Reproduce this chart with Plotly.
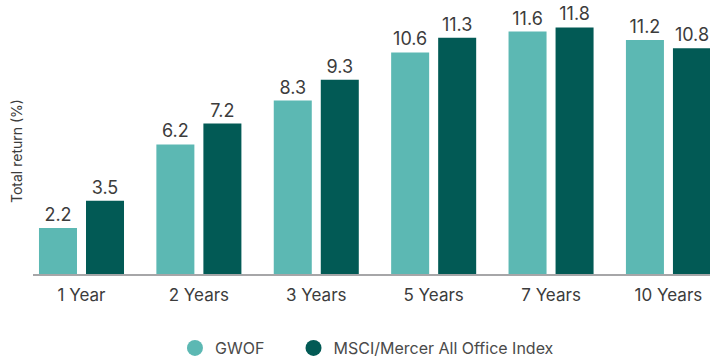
import plotly.graph_objects as go

periods = ["1 Year", "2 Years", "3 Years", "5 Years", "7 Years", "10 Years"]
gwof = [2.2, 6.2, 8.3, 10.6, 11.6, 11.2]
msci = [3.5, 7.2, 9.3, 11.3, 11.8, 10.8]

GWOF_COLOR = "#5cb8b3"
MSCI_COLOR = "#025a55"
TEXT_COLOR = "#3c3c3c"
FONT = "Inter, Roboto, sans-serif"

fig = go.Figure()

series = [("GWOF", gwof, GWOF_COLOR, "legend"),
          ("MSCI/Mercer All Office Index", msci, MSCI_COLOR, "legend2")]

for name, vals, color, leg in series:
    fig.add_trace(go.Bar(
        x=periods, y=vals, name=name,
        marker=dict(color=color, line=dict(width=0)),
        text=[f"{v:.1f}" for v in vals],
        textposition="outside",
        textfont=dict(size=18, color=TEXT_COLOR, family=FONT),
        cliponaxis=False,
        showlegend=False,
    ))
    # circular legend entries
    fig.add_trace(go.Scatter(
        x=[None], y=[None], mode="markers", name=name, legend=leg,
        marker=dict(symbol="circle", size=16, color=color),
        showlegend=True,
    ))

legend_style = dict(
    orientation="h", yanchor="middle", y=-0.27, xanchor="left",
    font=dict(size=16, color="#4a4a4a"), itemsizing="trace",
    bgcolor="rgba(0,0,0,0)",
)

fig.update_layout(
    width=710, height=357,
    margin=dict(l=33, r=0, t=0, b=83, autoexpand=False),
    paper_bgcolor="white", plot_bgcolor="white",
    barmode="group", bargap=0.199, bargroupgap=0.1915,
    font=dict(family=FONT, color=TEXT_COLOR),
    xaxis=dict(
        range=[-0.4131, 5.354],
        showline=True, linecolor="#a6a6a8", linewidth=2,
        showgrid=False, zeroline=False, ticks="",
        tickfont=dict(size=17, color=TEXT_COLOR),
        ticklabelstandoff=5,
    ),
    yaxis=dict(range=[0, 13.11], visible=False),
    legend=dict(legend_style, x=0.2097),
    legend2=dict(legend_style, x=0.3848),
    annotations=[dict(
        text="Total return (%)", textangle=-90,
        xref="paper", yref="paper", x=-0.0236, y=0.449,
        xanchor="center", yanchor="middle", showarrow=False,
        font=dict(size=14, color=TEXT_COLOR),
    )],
)

fig.write_html("out.html")
